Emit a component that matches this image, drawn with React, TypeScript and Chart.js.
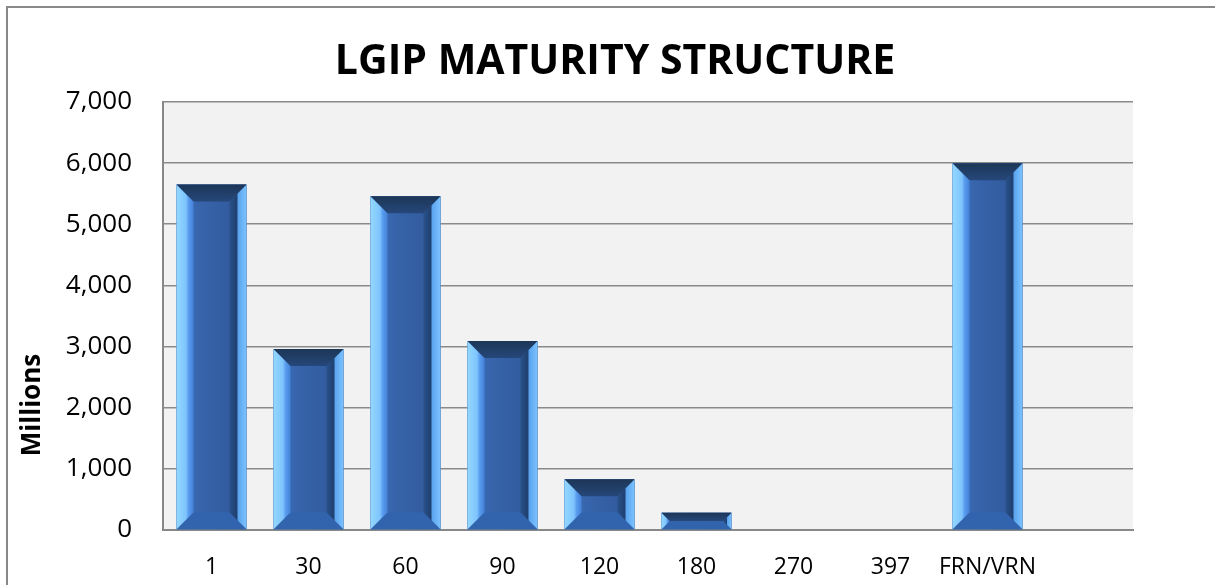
import React, { useEffect, useRef } from "react";
import { Chart, registerables } from "chart.js";

Chart.register(...registerables);

const categories: string[] = ["1", "30", "60", "90", "120", "180", "270", "397", "FRN/VRN", ""];
const values: (number | null)[] = [5650, 2960, 5460, 3090, 830, 283, 0, 0, 6000, null];
const yMin = 0;
const yMax = 7000;
const yStep = 1000;
const titleText = "LGIP MATURITY STRUCTURE";
const yAxisTitle = "Millions";

const FONT = "'Open Sans', 'Noto Sans', sans-serif";

const framePlugin = {
  id: "frame",
  beforeDraw(chart: any) {
    const { ctx, chartArea, width, height } = chart;
    ctx.save();
    ctx.fillStyle = "#ffffff";
    ctx.fillRect(0, 0, width, height);
    ctx.strokeStyle = "#898989";
    ctx.lineWidth = 2;
    ctx.beginPath();
    ctx.moveTo(7, height + 2);
    ctx.lineTo(7, 7);
    ctx.lineTo(width + 2, 7);
    ctx.stroke();
    ctx.fillStyle = "#f2f2f2";
    ctx.fillRect(chartArea.left, chartArea.top, chartArea.right - chartArea.left, chartArea.bottom - chartArea.top);
    ctx.restore();
  },
  afterDraw(chart: any) {
    const { ctx } = chart;
    ctx.save();
    ctx.fillStyle = "#000000";
    ctx.font = `bold 41px ${FONT}`;
    ctx.textAlign = "center";
    ctx.textBaseline = "alphabetic";
    ctx.fillText(titleText, 615, 74);
    ctx.translate(33, 405);
    ctx.rotate(-Math.PI / 2);
    ctx.font = `bold 26px ${FONT}`;
    ctx.textBaseline = "middle";
    ctx.fillText(yAxisTitle, 0, 0);
    ctx.restore();
  },
};

const bevelPlugin = {
  id: "bevel",
  afterDatasetsDraw(chart: any) {
    const { ctx } = chart;
    const meta = chart.getDatasetMeta(0);
    meta.data.forEach((el: any) => {
      const p = el.getProps(["x", "y", "base", "width"], true);
      const x0 = p.x - p.width / 2;
      const x1 = p.x + p.width / 2;
      const yT = Math.min(p.y, p.base);
      const yB = Math.max(p.y, p.base);
      const h = yB - yT;
      if (!(h > 1)) return;
      const b = Math.min(17, h / 2);
      ctx.save();
      // face
      const face = ctx.createLinearGradient(x0, 0, x1, 0);
      face.addColorStop(0, "#3c72c0");
      face.addColorStop(0.4, "#3662a8");
      face.addColorStop(1, "#30599a");
      ctx.fillStyle = face;
      ctx.fillRect(x0, yT, x1 - x0, h);
      // bottom
      ctx.fillStyle = "#3264ae";
      ctx.beginPath();
      ctx.moveTo(x0, yB);
      ctx.lineTo(x1, yB);
      ctx.lineTo(x1 - b, yB - b);
      ctx.lineTo(x0 + b, yB - b);
      ctx.closePath();
      ctx.fill();
      // left
      const lg = ctx.createLinearGradient(x0, 0, x0 + b, 0);
      lg.addColorStop(0, "#92d8ff");
      lg.addColorStop(0.55, "#7fc4fc");
      lg.addColorStop(0.7, "#5a9ef0");
      lg.addColorStop(1, "#4380d6");
      ctx.fillStyle = lg;
      ctx.beginPath();
      ctx.moveTo(x0, yT);
      ctx.lineTo(x0 + b, yT + b);
      ctx.lineTo(x0 + b, yB - b);
      ctx.lineTo(x0, yB);
      ctx.closePath();
      ctx.fill();
      // right
      const rg = ctx.createLinearGradient(x1 - b, 0, x1, 0);
      rg.addColorStop(0, "#2a528c");
      rg.addColorStop(0.45, "#1f3f6e");
      rg.addColorStop(0.5, "#5aa4ee");
      rg.addColorStop(1, "#7cc2ff");
      ctx.fillStyle = rg;
      ctx.beginPath();
      ctx.moveTo(x1, yT);
      ctx.lineTo(x1 - b, yT + b);
      ctx.lineTo(x1 - b, yB - b);
      ctx.lineTo(x1, yB);
      ctx.closePath();
      ctx.fill();
      // top
      const tg = ctx.createLinearGradient(0, yT, 0, yT + b);
      tg.addColorStop(0, "#1c3656");
      tg.addColorStop(1, "#26477a");
      ctx.fillStyle = tg;
      ctx.beginPath();
      ctx.moveTo(x0, yT);
      ctx.lineTo(x1, yT);
      ctx.lineTo(x1 - b, yT + b);
      ctx.lineTo(x0 + b, yT + b);
      ctx.closePath();
      ctx.fill();
      ctx.restore();
    });
  },
};

export default function App() {
  const canvasRef = useRef<HTMLCanvasElement | null>(null);

  useEffect(() => {
    if (!canvasRef.current) return;
    const chart = new Chart(canvasRef.current, {
      type: "bar",
      data: {
        labels: categories,
        datasets: [
          {
            data: values as any,
            backgroundColor: "#3662a8",
            borderWidth: 0,
            barPercentage: 0.72,
            categoryPercentage: 1,
          },
        ],
      },
      options: {
        animation: false,
        responsive: false,
        layout: { padding: { left: 0, top: 102, right: 82, bottom: 0 } },
        plugins: {
          legend: { display: false },
          tooltip: { enabled: false },
          title: { display: false },
        },
        scales: {
          x: {
            grid: { display: false, drawTicks: false },
            border: { display: true, color: "#888888", width: 2 },
            ticks: {
              color: "#000000",
              font: { family: FONT, size: 23 },
              padding: 24,
              maxRotation: 0,
              autoSkip: false,
            },
            afterFit: (scale: any) => {
              scale.height = 55;
            },
          },
          y: {
            min: yMin,
            max: yMax,
            grid: { color: "#8a8a8a", lineWidth: 1.6, drawTicks: false },
            border: { display: true, color: "#888888", width: 2 },
            ticks: {
              stepSize: yStep,
              color: "#000000",
              font: { family: FONT, size: 26 },
              padding: 31,
              callback: (v: any) => Number(v).toLocaleString("en-US"),
            },
            afterFit: (scale: any) => {
              scale.width = 163;
            },
          },
        },
      },
      plugins: [framePlugin, bevelPlugin],
    });
    return () => chart.destroy();
  }, []);

  return (
    <div style={{ position: "absolute", left: 0, top: 0, width: 1215, height: 585, background: "#fff" }}>
      <canvas ref={canvasRef} width={1215} height={585} style={{ display: "block" }} />
    </div>
  );
}
